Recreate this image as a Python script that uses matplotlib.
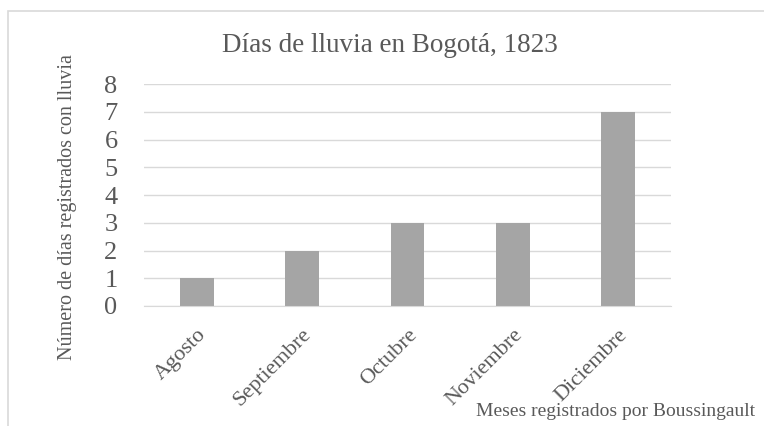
import matplotlib
matplotlib.use("Agg")
import matplotlib.pyplot as plt
from matplotlib.patches import Rectangle

months = ["Agosto", "Septiembre", "Octubre", "Noviembre", "Diciembre"]
days = [1, 2, 3, 3, 7]
yticks = [0, 1, 2, 3, 4, 5, 6, 7, 8]

TXT = "#595959"
plt.rcParams['font.family'] = ['Liberation Serif', 'DejaVu Serif']

W, H = 764, 426
fig = plt.figure(figsize=(W/100, H/100), dpi=100)

# outer border (partially cropped)
fig.patches.append(Rectangle((8/W, -0.1), 1.2, 1.1 - 11/H, transform=fig.transFigure,
                             fill=False, edgecolor="#d9d9d9", linewidth=1.2))

ax = fig.add_axes([144/W, 1-306/H, (671-144)/W, (306-84)/H])
x = list(range(len(months)))
ax.bar(x, days, width=0.32, color="#a5a5a5", zorder=2)
ax.set_xlim(-0.5, len(months)-0.5)
ax.set_ylim(0, 8)
ax.set_yticks(yticks)
ax.set_yticklabels([str(v) for v in yticks], fontsize=19, color=TXT)
ax.set_xticks(x)
ax.set_xticklabels(months, rotation=45, ha="right", rotation_mode="anchor",
                   fontsize=16, color=TXT)
ax.tick_params(axis="x", length=0, pad=14)
ax.tick_params(axis="y", length=0, pad=19)
ax.grid(axis="y", color="#d9d9d9", linewidth=1, zorder=0)
for s in ["top", "right", "left"]:
    ax.spines[s].set_visible(False)
ax.spines["bottom"].set_color("#d9d9d9")

fig.text(390/W, 1-45/H, "Días de lluvia en Bogotá, 1823", ha="center", va="center",
         fontsize=19.5, color=TXT)
fig.text(68/W, 1-207/H, "Número de días registrados con lluvia", rotation=90,
         ha="center", va="center", fontsize=14.5, color=TXT)
fig.text(755/W, 1-412/H, "Meses registrados por Boussingault", ha="right", va="center",
         fontsize=14, color=TXT)

fig.savefig("out.png", dpi=100)
